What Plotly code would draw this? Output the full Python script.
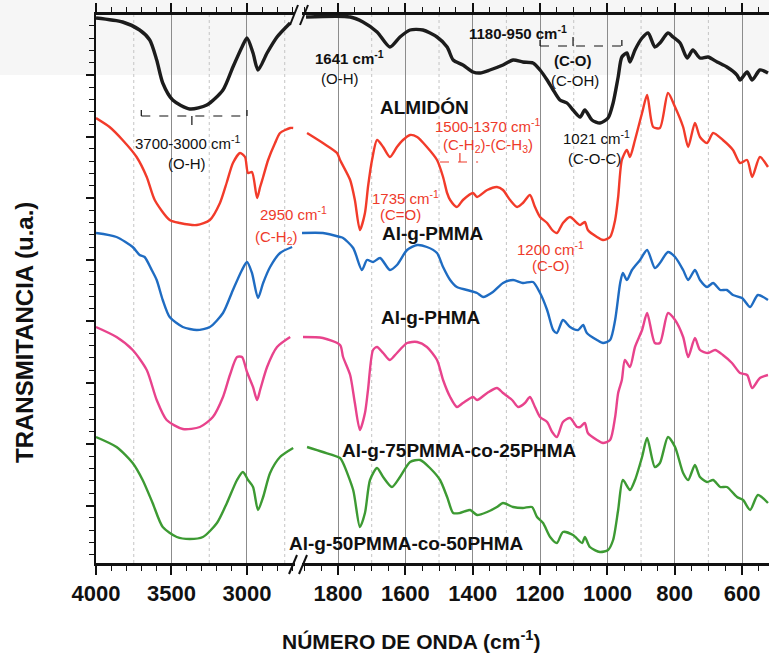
import plotly.graph_objects as go

# ---------------------------------------------------------------------------
# FTIR spectra (transmittance, arbitrary units, each trace vertically offset)
# High-wavenumber window 4000-2700 cm-1 and fingerprint window 1900-520 cm-1
# ---------------------------------------------------------------------------
almidon_hi_wn = [4000, 3824, 3711, 3644, 3598, 3558, 3492, 3379, 3266, 3159, 3093, 3033, 3000,
                 2960, 2927, 2867, 2801, 2714]
almidon_hi_t = [109.0, 108.2, 106.6, 104.6, 100.6, 96.0, 92.6, 90.8, 91.6, 94.6, 99.2, 103.2, 105.0,
                102.0, 98.6, 102.0, 105.2, 108.0]
almidon_lo_wn = [1895, 1764, 1726, 1684, 1646, 1616, 1586, 1548, 1506, 1476, 1458, 1429, 1399, 1378,
                 1349, 1310, 1280, 1251, 1221, 1200, 1179, 1161, 1141, 1120, 1102, 1081, 1067, 1046,
                 1022, 998, 983, 968, 957, 942, 933, 918, 897, 879, 859, 844, 820, 805, 784, 763,
                 746, 725, 701, 674, 645, 615, 606, 585, 570, 547, 523]
almidon_lo_t = [109.2, 109.2, 108.2, 106.2, 103.2, 105.2, 106.6, 106.6, 105.2, 103.2, 100.6, 99.6,
                98.2, 98.0, 98.6, 99.6, 100.6, 100.2, 100.0, 98.6, 96.6, 94.6, 92.6, 92.0, 90.6,
                89.2, 90.6, 88.6, 88.0, 89.0, 92.0, 97.2, 101.2, 102.0, 100.2, 102.6, 105.0, 106.0,
                103.2, 104.0, 106.0, 105.2, 104.0, 101.0, 102.6, 101.0, 101.2, 100.2, 99.2, 97.6,
                96.6, 98.2, 96.6, 98.6, 98.0]

pmma_hi_wn = [4000, 3910, 3824, 3731, 3664, 3611, 3512, 3445, 3332, 3246, 3179, 3133, 3093, 3046,
              3013, 2993, 2967, 2933, 2913, 2893, 2860, 2814, 2781, 2714, 2694]
pmma_hi_t = [89.0, 87.2, 84.6, 81.2, 77.2, 72.6, 68.6, 68.0, 67.6, 68.6, 72.0, 76.2, 80.0, 82.0,
             81.2, 78.0, 78.2, 73.0, 75.2, 77.2, 80.6, 84.0, 86.0, 87.0, 87.0]
pmma_lo_wn = [1892, 1845, 1803, 1794, 1764, 1750, 1735, 1720, 1711, 1699, 1684, 1666, 1646, 1625,
              1607, 1586, 1565, 1536, 1506, 1488, 1476, 1467, 1447, 1429, 1399, 1387, 1357, 1328,
              1310, 1289, 1268, 1251, 1230, 1215, 1200, 1179, 1164, 1150, 1132, 1111, 1090, 1081,
              1067, 1058, 1031, 1013, 992, 977, 968, 957, 942, 933, 918, 897, 882, 864, 844, 820,
              799, 775, 760, 740, 725, 704, 686, 657, 627, 606, 585, 570, 547, 523]
pmma_lo_t = [86.0, 84.0, 82.0, 80.6, 76.6, 72.6, 66.6, 70.0, 75.2, 80.6, 84.6, 83.2, 81.2, 83.2,
             84.6, 85.6, 85.2, 83.2, 80.6, 77.2, 74.0, 72.6, 71.2, 72.6, 74.0, 73.2, 74.6, 75.2,
             74.6, 72.6, 71.2, 72.0, 73.6, 71.2, 69.2, 68.0, 66.6, 66.0, 68.0, 69.2, 68.0, 67.6,
             68.2, 66.6, 65.2, 64.6, 65.2, 68.6, 73.2, 80.6, 82.6, 81.2, 84.6, 90.0, 93.6, 87.2,
             87.0, 94.0, 91.2, 87.2, 83.2, 88.0, 85.2, 84.0, 86.0, 84.6, 82.6, 80.0, 80.6, 77.2,
             81.2, 79.2]

phma_hi_wn = [4000, 3864, 3757, 3711, 3678, 3631, 3598, 3558, 3512, 3425, 3332, 3246, 3159, 3093,
              3033, 3000, 2967, 2927, 2893, 2847, 2781, 2701]
phma_hi_t = [66.0, 65.2, 63.2, 61.6, 61.2, 58.6, 56.6, 52.6, 49.2, 47.2, 46.6, 47.2, 50.0, 54.6,
             58.6, 60.2, 58.0, 53.0, 56.0, 59.2, 62.0, 63.2]
phma_lo_wn = [1907, 1845, 1794, 1785, 1755, 1729, 1714, 1696, 1675, 1646, 1625, 1595, 1565, 1536,
              1506, 1488, 1467, 1447, 1417, 1387, 1369, 1340, 1310, 1280, 1251, 1221, 1200, 1179,
              1161, 1150, 1132, 1111, 1087, 1072, 1061, 1031, 1013, 992, 977, 962, 954, 942, 927,
              903, 882, 859, 844, 820, 799, 775, 760, 740, 725, 704, 686, 665, 645, 627, 600,
              576, 553, 523]
phma_lo_t = [66.0, 66.0, 65.2, 65.0, 63.0, 58.6, 60.6, 60.2, 61.0, 58.6, 59.6, 62.6, 63.6, 63.2,
             62.0, 59.2, 56.6, 55.2, 54.6, 54.0, 53.2, 54.2, 56.0, 56.6, 56.0, 56.2, 54.0, 50.6,
             46.6, 46.0, 48.6, 47.2, 46.6, 47.6, 46.0, 44.6, 44.0, 44.6, 48.6, 56.0, 58.0, 56.6,
             58.6, 60.6, 62.6, 59.0, 60.0, 62.2, 61.2, 58.6, 56.6, 58.6, 56.6, 55.2, 56.0, 54.6,
             54.6, 53.6, 53.0, 51.2, 53.6, 52.6]

co75_hi_wn = [4000, 3864, 3757, 3664, 3598, 3532, 3425, 3312, 3226, 3159, 3113, 3066, 3033, 3000,
              2960, 2933, 2913, 2867, 2801, 2714]
co75_hi_t = [47.2, 45.2, 42.6, 38.6, 32.6, 28.6, 26.8, 27.2, 29.2, 33.2, 37.6, 41.2, 41.2, 38.2,
             35.2, 32.6, 34.6, 39.2, 43.2, 45.2]
co75_lo_wn = [1904, 1845, 1794, 1785, 1764, 1750, 1735, 1720, 1711, 1696, 1684, 1666, 1646, 1625,
              1595, 1565, 1536, 1506, 1488, 1467, 1447, 1429, 1399, 1387, 1357, 1328, 1310, 1283,
              1265, 1245, 1230, 1215, 1200, 1179, 1164, 1150, 1132, 1111, 1090, 1081, 1067, 1058,
              1031, 1013, 992, 977, 968, 957, 948, 933, 918, 897, 882, 859, 844, 820, 799, 775,
              760, 740, 725, 701, 680, 657, 630, 606, 585, 570, 547, 523]
co75_lo_t = [45.2, 45.0, 43.6, 41.2, 37.6, 32.0, 26.6, 30.0, 34.6, 42.6, 43.2, 42.0, 40.6, 42.0,
             44.0, 44.2, 43.2, 40.6, 36.6, 33.2, 31.2, 32.0, 33.2, 32.6, 34.0, 35.0, 34.0, 32.6,
             31.2, 32.0, 33.2, 31.2, 29.2, 28.2, 26.2, 25.2, 28.2, 29.0, 27.2, 27.2, 28.0, 26.0,
             24.6, 24.0, 24.6, 29.2, 34.0, 36.6, 40.6, 39.2, 43.2, 46.6, 50.0, 44.0, 44.0, 50.0,
             48.6, 45.2, 41.2, 45.0, 42.6, 42.0, 42.6, 41.6, 40.0, 38.0, 37.6, 35.0, 37.0, 37.6]

co50_hi_wn = [4000, 3864, 3757, 3691, 3625, 3558, 3465, 3379, 3292, 3199, 3133, 3066, 3027, 2993,
              2960, 2927, 2893, 2847, 2781, 2694]
co50_hi_t = [25.2, 23.2, 20.0, 16.6, 12.0, 7.2, 5.2, 4.8, 5.2, 8.0, 12.0, 16.6, 18.2, 16.6,
             15.2, 10.6, 13.2, 18.0, 21.2, 23.0]
co50_lo_wn = [1892, 1845, 1794, 1785, 1755, 1735, 1720, 1705, 1684, 1666, 1640, 1616, 1586, 1556,
              1527, 1497, 1476, 1458, 1438, 1408, 1387, 1357, 1328, 1310, 1280, 1251, 1224, 1209,
              1191, 1170, 1150, 1132, 1102, 1075, 1067, 1052, 1022, 998, 983, 968, 954, 933, 918,
              897, 882, 859, 844, 820, 799, 775, 760, 740, 725, 704, 686, 665, 645, 615, 597,
              576, 553, 523]
co50_lo_t = [23.2, 22.2, 21.0, 20.0, 14.6, 7.2, 10.0, 16.6, 19.0, 17.2, 15.2, 17.2, 20.2, 20.6,
             19.0, 16.6, 13.2, 10.0, 10.0, 10.6, 9.6, 10.2, 11.2, 12.0, 11.2, 11.0, 11.2, 9.2,
             8.0, 5.2, 4.0, 6.2, 5.6, 4.0, 5.2, 3.2, 2.2, 2.6, 4.6, 10.6, 16.6, 14.6, 16.6, 21.2,
             25.0, 19.2, 20.0, 25.2, 23.2, 18.0, 16.6, 19.6, 17.2, 16.2, 16.6, 15.2, 15.2, 13.2,
             12.6, 10.6, 13.6, 12.0]

sample_names = ["ALMIDÓN", "Al-g-PMMA", "Al-g-PHMA",
                "Al-g-75PMMA-co-25PHMA", "Al-g-50PMMA-co-50PHMA"]
sample_colors = ["#1c1c1c", "#f23b2a", "#1f6cc2", "#e8438c", "#3d9a33"]
sample_widths = [3.4, 2.4, 2.4, 2.4, 2.4]

hi_ticks = [4000, 3500, 3000]
lo_ticks = [1800, 1600, 1400, 1200, 1000, 800, 600]
hi_dotted = [3750, 3250, 2750]
lo_dotted = [1700, 1500, 1300, 1100, 900, 700]

spectra = [
    (almidon_hi_wn, almidon_hi_t, almidon_lo_wn, almidon_lo_t),
    (pmma_hi_wn, pmma_hi_t, pmma_lo_wn, pmma_lo_t),
    (phma_hi_wn, phma_hi_t, phma_lo_wn, phma_lo_t),
    (co75_hi_wn, co75_hi_t, co75_lo_wn, co75_lo_t),
    (co50_hi_wn, co50_hi_t, co50_lo_wn, co50_lo_t),
]

fig = go.Figure()
for (hw, ht, lw, lt), name, col, lw_ in zip(spectra, sample_names, sample_colors, sample_widths):
    line = dict(color=col, width=lw_, shape="spline", smoothing=0.7)
    fig.add_trace(go.Scatter(x=hw, y=ht, mode="lines", line=line, name=name,
                             xaxis="x", yaxis="y", showlegend=False))
    fig.add_trace(go.Scatter(x=lw, y=lt, mode="lines", line=line, name=name,
                             xaxis="x2", yaxis="y", showlegend=False))

W, H = 769, 659
ML, MR, MT, MB = 96, 0, 15, 96
PW = W - ML - MR
PH = H - MT - MB


def px(xp):
    return (xp - ML) / PW


def py(yp):
    return (H - MB - yp) / PH


TICKFONT = dict(family="Liberation Sans, Arial", size=22, color="#111", weight="bold")
BLACK = "#111111"
RED = "#ee3a2a"

common_x = dict(
    showline=True, linecolor=BLACK, linewidth=2.5, mirror="ticks",
    ticks="outside", ticklen=9, tickwidth=1.6, tickcolor=BLACK,
    tickfont=TICKFONT, zeroline=False,
    showgrid=True, gridcolor="#8c8c8c", gridwidth=1.2,
    anchor="y",
)

fig.update_layout(
    width=W, height=H,
    margin=dict(l=ML, r=MR, t=MT, b=MB),
    paper_bgcolor="white", plot_bgcolor="white",
    xaxis=dict(domain=[0, px(295)], range=[4000, 2682], tickvals=hi_ticks,
               minor=dict(dtick=100, tick0=0, ticks="outside", ticklen=5, tickwidth=1.2,
                          tickcolor=BLACK, showgrid=False),
               **common_x),
    xaxis2=dict(domain=[px(302), 1], range=[1907, 520], tickvals=lo_ticks,
                minor=dict(dtick=50, tick0=0, ticks="outside", ticklen=5, tickwidth=1.2,
                           tickcolor=BLACK, showgrid=False),
                **common_x),
    yaxis=dict(domain=[0, 1], range=[0, 109.6], showline=True, linecolor=BLACK, linewidth=2.2,
               ticks="outside", ticklen=8, tickwidth=1.5, tickcolor=BLACK,
               tick0=11.5, dtick=12.3, showticklabels=False, showgrid=False, zeroline=False,
               minor=dict(dtick=2.46, tick0=1.66, ticks="outside", ticklen=5, tickwidth=1.2,
                          tickcolor=BLACK)),
)

shapes = []
# faint grey band of the page along the top edge
shapes.append(dict(type="rect", xref="paper", yref="paper", x0=px(0), x1=1, y0=py(75), y1=py(0),
                   fillcolor="#f6f6f6", line=dict(width=0), layer="below"))
# dotted half-interval grid lines
for v in hi_dotted:
    shapes.append(dict(type="line", xref="x", yref="paper", x0=v, x1=v, y0=0, y1=1,
                       line=dict(color="#c4c4c4", width=1, dash="dot"), layer="below"))
for v in lo_dotted:
    shapes.append(dict(type="line", xref="x2", yref="paper", x0=v, x1=v, y0=0, y1=1,
                       line=dict(color="#c4c4c4", width=1, dash="dot"), layer="below"))

# axis-break marks
for (x0, y0, x1, y1) in [(290, 25, 298, 5), (300, 25, 308, 5),
                         (289, 574, 297, 555), (299, 574, 307, 555)]:
    shapes.append(dict(type="line", xref="paper", yref="paper",
                       x0=px(x0), y0=py(y0), x1=px(x1), y1=py(y1),
                       line=dict(color=BLACK, width=2)))


def dashed(xref, pts, color):
    for (xa, ya), (xb, yb) in zip(pts[:-1], pts[1:]):
        shapes.append(dict(type="line", xref=xref, yref="y", x0=xa, y0=ya, x1=xb, y1=yb,
                           line=dict(color=color, width=1.2, dash="dash")))


# O-H band bracket
dashed("x", [(3700, 90.6), (3700, 89.4), (3000, 89.4), (3000, 90.6)], BLACK)
dashed("x", [(3365, 89.4), (3365, 87.2)], BLACK)
# C-O band bracket
dashed("x2", [(1200, 104.6), (1200, 103.4), (957, 103.4), (957, 104.6)], BLACK)
dashed("x2", [(1102, 103.4), (1102, 107.0)], BLACK)
# CH2/CH3 bracket
dashed("x2", [(1497, 80.2), (1384, 80.2)], RED)
dashed("x2", [(1438, 80.2), (1438, 82.2)], RED)

fig.update_layout(shapes=shapes)

ANN = "Liberation Sans, Arial, sans-serif"
ann = []


def txt(xref, x, y, text, color=BLACK, size=15, bold=False):
    ann.append(dict(xref=xref, yref="y", x=x, y=y, text=text, showarrow=False,
                    xanchor="center", yanchor="middle",
                    font=dict(family=ANN, size=size, color=color,
                              weight="bold" if bold else "normal")))


txt("x", 3391, 84.2, "3700-3000 cm<sup>-1</sup>")
txt("x", 3398, 80.0, "(O-H)")
txt("x2", 1767, 101.2, "1641 cm<sup>-1</sup>", bold=True)
txt("x2", 1794, 97.0, "(O-H)")
txt("x2", 1265, 106.2, "1180-950 cm<sup>-1</sup>", bold=True)
txt("x2", 1102, 100.6, "(C-O)", bold=True)
txt("x2", 1096, 96.6, "(C-OH)")
txt("x2", 1031, 85.2, "1021 cm<sup>-1</sup>")
txt("x2", 1037, 81.0, "(C-O-C)")

txt("x2", 1357, 87.6, "1500-1370 cm<sup>-1</sup>", color=RED)
txt("x2", 1354, 83.6, "(C-H<sub>2</sub>)-(C-H<sub>3</sub>)", color=RED)
txt("x", 2694, 70.0, "2950 cm<sup>-1</sup>", color=RED)
txt("x", 2807, 65.2, "(C-H<sub>2</sub>)", color=RED)
txt("x2", 1601, 73.2, "1735 cm<sup>-1</sup>", color=RED)
txt("x2", 1613, 69.8, "(C=O)", color=RED)
txt("x2", 1170, 63.0, "1200 cm<sup>-1</sup>", color=RED)
txt("x2", 1167, 59.6, "(C-O)", color=RED)

label_pos = [(1542, 91.2), (1518, 66.0), (1524, 49.2), (1438, 22.6), (1598, 4.0)]
for name, (lx, ly) in zip(sample_names, label_pos):
    txt("x2", lx, ly, name, size=19, bold=True)

TITLEFONT = dict(family="Liberation Sans, Arial", color=BLACK, weight="bold")
ann.append(dict(xref="paper", yref="paper", x=px(411), y=py(640),
                text="NÚMERO DE ONDA (cm<sup>-1</sup>)", showarrow=False,
                xanchor="center", yanchor="middle", font=dict(size=21, **TITLEFONT)))
ann.append(dict(xref="paper", yref="paper", x=px(24), y=py(333),
                text="TRANSMITANCIA (u.a.)", showarrow=False, textangle=-90,
                xanchor="center", yanchor="middle", font=dict(size=24, **TITLEFONT)))

fig.update_layout(annotations=ann)

fig.write_html("out.html")
